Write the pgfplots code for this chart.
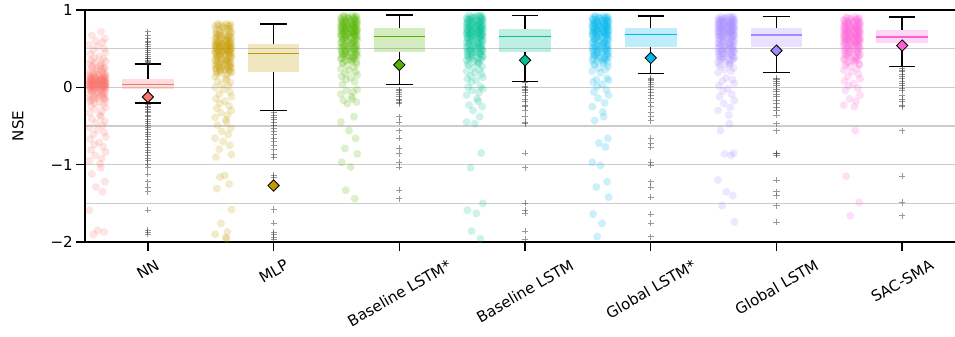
\documentclass[border=0pt]{standalone}
\usepackage{graphicx}
\usepackage{fontspec}
\setmainfont{DejaVu Sans}
\usepackage{pgfplots}
\usepackage{pgfplotstable}
\pgfplotsset{compat=1.18}
\usepgfplotslibrary{statistics}
\definecolor{cNN}{HTML}{F8766D}
\definecolor{cMLP}{HTML}{C49A00}
\definecolor{cBLs}{HTML}{53B400}
\definecolor{cBL}{HTML}{00C094}
\definecolor{cGLs}{HTML}{00B6EB}
\definecolor{cGL}{HTML}{A58AFF}
\definecolor{cSAC}{HTML}{FB61D7}

\pgfplotstableread[row sep=\\]{j y\\
0.02 0.72\\ -0.035 0.67\\ 0.045 0.63\\ -0.01 0.60\\ 0.03 0.58\\
-0.05 0.55\\ 0.00 0.53\\ 0.04 0.50\\ -0.025 0.48\\ 0.05 0.45\\
-0.045 0.43\\ 0.01 0.40\\ -0.02 0.38\\ 0.035 0.37\\ -0.04 0.35\\
0.05 0.34\\ -0.015 0.32\\ 0.025 0.31\\ -0.05 0.30\\ 0.015 0.29\\
0.02 0.27\\ -0.035 0.26\\ 0.045 0.25\\ -0.01 0.24\\ 0.03 0.23\\
-0.05 0.21\\ 0.00 0.20\\ 0.04 0.19\\ -0.025 0.18\\ 0.05 0.16\\
-0.045 0.15\\ 0.01 0.14\\ -0.02 0.14\\ 0.035 0.13\\ -0.04 0.13\\
0.05 0.12\\ -0.015 0.12\\ 0.025 0.11\\ -0.05 0.11\\ 0.015 0.10\\
0.02 0.10\\ -0.035 0.10\\ 0.045 0.09\\ -0.01 0.09\\ 0.03 0.09\\
-0.05 0.08\\ 0.00 0.08\\ 0.04 0.08\\ -0.025 0.07\\ 0.05 0.07\\
-0.045 0.07\\ 0.01 0.06\\ -0.02 0.06\\ 0.035 0.06\\ -0.04 0.05\\
0.05 0.05\\ -0.015 0.05\\ 0.025 0.05\\ -0.05 0.04\\ 0.015 0.04\\
0.02 0.04\\ -0.035 0.04\\ 0.045 0.03\\ -0.01 0.03\\ 0.03 0.03\\
-0.05 0.02\\ 0.00 0.02\\ 0.04 0.02\\ -0.025 0.01\\ 0.05 0.01\\
-0.045 0.01\\ 0.01 0.00\\ -0.02 0.00\\ 0.035 0.00\\ -0.04 -0.01\\
0.05 -0.01\\ -0.015 -0.02\\ 0.025 -0.02\\ -0.05 -0.03\\ 0.015 -0.04\\
0.02 -0.05\\ -0.035 -0.06\\ 0.045 -0.08\\ -0.01 -0.10\\ 0.03 -0.12\\
-0.05 -0.13\\ 0.00 -0.14\\ 0.04 -0.15\\ -0.025 -0.16\\ 0.05 -0.17\\
-0.045 -0.18\\ 0.01 -0.19\\ -0.02 -0.20\\ 0.035 -0.22\\ -0.04 -0.24\\
0.05 -0.26\\ -0.015 -0.28\\ 0.025 -0.31\\ -0.05 -0.33\\ 0.015 -0.36\\
0.02 -0.38\\ -0.035 -0.41\\ 0.045 -0.44\\ -0.01 -0.46\\ 0.03 -0.49\\
-0.05 -0.52\\ 0.00 -0.55\\ 0.04 -0.58\\ -0.025 -0.61\\ 0.05 -0.64\\
-0.045 -0.67\\ 0.01 -0.71\\ -0.02 -0.74\\ 0.035 -0.77\\ -0.04 -0.81\\
0.05 -0.84\\ -0.015 -0.88\\ 0.025 -0.92\\ -0.05 -0.95\\ 0.015 -0.99\\
0.02 -1.04\\ -0.035 -1.12\\ 0.045 -1.22\\ -0.01 -1.29\\ 0.03 -1.35\\
-0.05 -1.59\\ 0.00 -1.85\\ 0.04 -1.87\\ -0.025 -1.90\\
}\tNN
\pgfplotstableread[row sep=\\]{j y\\
-0.03 0.28\\ 0.04 0.25\\ -0.005 0.22\\ 0.025 0.20\\ -0.045 0.18\\
0.035 0.17\\ 0.005 0.16\\ -0.02 0.15\\ 0.045 0.14\\ -0.04 0.13\\
-0.03 0.12\\ 0.04 0.12\\ -0.005 0.11\\ 0.025 0.11\\ -0.045 0.10\\
0.035 0.10\\ 0.005 0.09\\ -0.02 0.09\\ 0.045 0.08\\ -0.04 0.08\\
-0.03 0.07\\ 0.04 0.07\\ -0.005 0.06\\ 0.025 0.06\\ -0.045 0.05\\
0.035 0.05\\ 0.005 0.04\\ -0.02 0.04\\ 0.045 0.03\\ -0.04 0.03\\
-0.03 0.02\\ 0.04 0.02\\ -0.005 0.01\\ 0.025 0.01\\ -0.045 0.00\\
0.035 0.00\\ 0.005 -0.01\\ -0.02 -0.02\\ 0.045 -0.03\\ -0.04 -0.04\\
-0.03 -0.05\\ 0.04 -0.06\\ -0.005 -0.07\\ 0.025 -0.08\\ -0.045 -0.09\\
0.035 -0.10\\ 0.005 -0.11\\ -0.02 -0.12\\ 0.045 -0.14\\ -0.04 -0.16\\
}\xNN

\pgfplotstableread[row sep=\\]{j y\\
0.02 0.82\\ -0.035 0.82\\ 0.045 0.81\\ -0.01 0.81\\ 0.03 0.80\\
-0.05 0.79\\ 0.00 0.78\\ 0.04 0.76\\ -0.025 0.74\\ 0.05 0.72\\
-0.045 0.70\\ 0.01 0.68\\ -0.02 0.67\\ 0.035 0.66\\ -0.04 0.65\\
0.05 0.64\\ -0.015 0.63\\ 0.025 0.62\\ -0.05 0.61\\ 0.015 0.60\\
0.02 0.59\\ -0.035 0.58\\ 0.045 0.58\\ -0.01 0.57\\ 0.03 0.57\\
-0.05 0.56\\ 0.00 0.56\\ 0.04 0.55\\ -0.025 0.55\\ 0.05 0.54\\
-0.045 0.54\\ 0.01 0.53\\ -0.02 0.53\\ 0.035 0.52\\ -0.04 0.52\\
0.05 0.51\\ -0.015 0.51\\ 0.025 0.50\\ -0.05 0.50\\ 0.015 0.49\\
0.02 0.49\\ -0.035 0.48\\ 0.045 0.48\\ -0.01 0.47\\ 0.03 0.47\\
-0.05 0.46\\ 0.00 0.46\\ 0.04 0.45\\ -0.025 0.45\\ 0.05 0.44\\
-0.045 0.44\\ 0.01 0.43\\ -0.02 0.42\\ 0.035 0.41\\ -0.04 0.40\\
0.05 0.39\\ -0.015 0.38\\ 0.025 0.37\\ -0.05 0.36\\ 0.015 0.35\\
0.02 0.34\\ -0.035 0.33\\ 0.045 0.32\\ -0.01 0.31\\ 0.03 0.30\\
-0.05 0.29\\ 0.00 0.28\\ 0.04 0.27\\ -0.025 0.26\\ 0.05 0.25\\
-0.045 0.24\\ 0.01 0.23\\ -0.02 0.22\\ 0.035 0.21\\ -0.04 0.20\\
0.05 0.19\\ -0.015 0.18\\ 0.025 0.16\\ -0.05 0.14\\ 0.015 0.12\\
0.02 0.10\\ -0.035 0.08\\ 0.045 0.06\\ -0.01 0.04\\ 0.03 0.02\\
-0.05 0.00\\ 0.00 -0.03\\ 0.04 -0.06\\ -0.025 -0.09\\ 0.05 -0.12\\
-0.045 -0.15\\ 0.01 -0.18\\ -0.02 -0.21\\ 0.035 -0.24\\ -0.04 -0.27\\
0.05 -0.30\\ -0.015 -0.33\\ 0.025 -0.36\\ -0.05 -0.39\\ 0.015 -0.42\\
0.02 -0.45\\ -0.035 -0.49\\ 0.045 -0.53\\ -0.01 -0.57\\ 0.03 -0.61\\
-0.05 -0.66\\ 0.00 -0.70\\ 0.04 -0.75\\ -0.025 -0.80\\ 0.05 -0.87\\
-0.045 -0.90\\ 0.01 -1.14\\ -0.02 -1.16\\ 0.035 -1.25\\ -0.04 -1.31\\
0.05 -1.58\\ -0.015 -1.76\\ 0.025 -1.87\\ -0.05 -1.90\\ 0.015 -1.94\\
0.02 -1.96\\ -0.035 -2.5\\ 0.045 -3.4\\ -0.01 -6.0\\
}\tMLP
\pgfplotstableread[row sep=\\]{j y\\
-0.03 0.80\\ 0.04 0.79\\ -0.005 0.77\\ 0.025 0.76\\ -0.045 0.75\\
0.035 0.73\\ 0.005 0.72\\ -0.02 0.71\\ 0.045 0.70\\ -0.04 0.69\\
-0.03 0.68\\ 0.04 0.67\\ -0.005 0.66\\ 0.025 0.65\\ -0.045 0.64\\
0.035 0.63\\ 0.005 0.62\\ -0.02 0.61\\ 0.045 0.60\\ -0.04 0.59\\
-0.03 0.58\\ 0.04 0.57\\ -0.005 0.56\\ 0.025 0.55\\ -0.045 0.54\\
0.035 0.53\\ 0.005 0.52\\ -0.02 0.51\\ 0.045 0.50\\ -0.04 0.49\\
-0.03 0.48\\ 0.04 0.47\\ -0.005 0.46\\ 0.025 0.45\\ -0.045 0.44\\
0.035 0.43\\ 0.005 0.42\\ -0.02 0.41\\ 0.045 0.40\\ -0.04 0.39\\
-0.03 0.38\\ 0.04 0.37\\ -0.005 0.36\\ 0.025 0.35\\ -0.045 0.34\\
0.035 0.33\\ 0.005 0.32\\ -0.02 0.31\\ 0.045 0.30\\ -0.04 0.29\\
-0.03 0.28\\ 0.04 0.27\\ -0.005 0.26\\ 0.025 0.25\\ -0.045 0.24\\
0.035 0.23\\ 0.005 0.22\\ -0.02 0.21\\ 0.045 0.20\\ -0.04 0.18\\
}\xMLP

\pgfplotstableread[row sep=\\]{j y\\
0.02 0.93\\ -0.035 0.92\\ 0.045 0.92\\ -0.01 0.91\\ 0.03 0.90\\
-0.05 0.90\\ 0.00 0.89\\ 0.04 0.88\\ -0.025 0.88\\ 0.05 0.87\\
-0.045 0.86\\ 0.01 0.86\\ -0.02 0.85\\ 0.035 0.84\\ -0.04 0.84\\
0.05 0.83\\ -0.015 0.83\\ 0.025 0.82\\ -0.05 0.82\\ 0.015 0.81\\
0.02 0.81\\ -0.035 0.80\\ 0.045 0.80\\ -0.01 0.79\\ 0.03 0.79\\
-0.05 0.78\\ 0.00 0.78\\ 0.04 0.77\\ -0.025 0.77\\ 0.05 0.76\\
-0.045 0.76\\ 0.01 0.75\\ -0.02 0.75\\ 0.035 0.74\\ -0.04 0.74\\
0.05 0.73\\ -0.015 0.73\\ 0.025 0.72\\ -0.05 0.72\\ 0.015 0.71\\
0.02 0.71\\ -0.035 0.70\\ 0.045 0.70\\ -0.01 0.69\\ 0.03 0.69\\
-0.05 0.68\\ 0.00 0.68\\ 0.04 0.67\\ -0.025 0.67\\ 0.05 0.66\\
-0.045 0.66\\ 0.01 0.65\\ -0.02 0.64\\ 0.035 0.63\\ -0.04 0.62\\
0.05 0.61\\ -0.015 0.60\\ 0.025 0.59\\ -0.05 0.58\\ 0.015 0.57\\
0.02 0.56\\ -0.035 0.55\\ 0.045 0.54\\ -0.01 0.53\\ 0.03 0.52\\
-0.05 0.51\\ 0.00 0.50\\ 0.04 0.49\\ -0.025 0.48\\ 0.05 0.47\\
-0.045 0.46\\ 0.01 0.45\\ -0.02 0.44\\ 0.035 0.43\\ -0.04 0.42\\
0.05 0.41\\ -0.015 0.40\\ 0.025 0.38\\ -0.05 0.37\\ 0.015 0.35\\
0.02 0.34\\ -0.035 0.32\\ 0.045 0.30\\ -0.01 0.28\\ 0.03 0.26\\
-0.05 0.24\\ 0.00 0.22\\ 0.04 0.20\\ -0.025 0.18\\ 0.05 0.16\\
-0.045 0.14\\ 0.01 0.12\\ -0.02 0.10\\ 0.035 0.07\\ -0.04 0.04\\
0.05 -0.03\\ -0.015 -0.04\\ 0.025 -0.06\\ -0.05 -0.09\\ 0.015 -0.12\\
0.02 -0.15\\ -0.035 -0.17\\ 0.045 -0.19\\ -0.01 -0.21\\ 0.03 -0.38\\
-0.05 -0.45\\ 0.00 -0.56\\ 0.04 -0.66\\ -0.025 -0.79\\ 0.05 -0.86\\
-0.045 -0.97\\ 0.01 -1.03\\ -0.02 -1.33\\ 0.035 -1.44\\
}\tBLs
\pgfplotstableread[row sep=\\]{j y\\
-0.03 0.92\\ 0.04 0.91\\ -0.005 0.90\\ 0.025 0.89\\ -0.045 0.88\\
0.035 0.87\\ 0.005 0.86\\ -0.02 0.85\\ 0.045 0.84\\ -0.04 0.83\\
-0.03 0.82\\ 0.04 0.81\\ -0.005 0.80\\ 0.025 0.79\\ -0.045 0.78\\
0.035 0.77\\ 0.005 0.76\\ -0.02 0.75\\ 0.045 0.74\\ -0.04 0.73\\
-0.03 0.72\\ 0.04 0.71\\ -0.005 0.70\\ 0.025 0.69\\ -0.045 0.68\\
0.035 0.67\\ 0.005 0.66\\ -0.02 0.65\\ 0.045 0.64\\ -0.04 0.63\\
-0.03 0.62\\ 0.04 0.61\\ -0.005 0.60\\ 0.025 0.59\\ -0.045 0.58\\
0.035 0.57\\ 0.005 0.56\\ -0.02 0.55\\ 0.045 0.54\\ -0.04 0.53\\
-0.03 0.52\\ 0.04 0.51\\ -0.005 0.50\\ 0.025 0.49\\ -0.045 0.48\\
0.035 0.47\\ 0.005 0.46\\ -0.02 0.45\\ 0.045 0.44\\ -0.04 0.43\\
-0.03 0.42\\ 0.04 0.41\\ -0.005 0.40\\ 0.025 0.39\\ -0.045 0.38\\
0.035 0.37\\ 0.005 0.36\\ -0.02 0.35\\ 0.045 0.33\\ -0.04 0.31\\
}\xBLs

\pgfplotstableread[row sep=\\]{j y\\
0.02 0.93\\ -0.035 0.93\\ 0.045 0.92\\ -0.01 0.91\\ 0.03 0.91\\
-0.05 0.90\\ 0.00 0.89\\ 0.04 0.89\\ -0.025 0.88\\ 0.05 0.87\\
-0.045 0.87\\ 0.01 0.86\\ -0.02 0.85\\ 0.035 0.85\\ -0.04 0.84\\
0.05 0.83\\ -0.015 0.83\\ 0.025 0.82\\ -0.05 0.82\\ 0.015 0.81\\
0.02 0.80\\ -0.035 0.80\\ 0.045 0.79\\ -0.01 0.79\\ 0.03 0.78\\
-0.05 0.78\\ 0.00 0.77\\ 0.04 0.77\\ -0.025 0.76\\ 0.05 0.76\\
-0.045 0.75\\ 0.01 0.75\\ -0.02 0.74\\ 0.035 0.74\\ -0.04 0.73\\
0.05 0.73\\ -0.015 0.72\\ 0.025 0.72\\ -0.05 0.71\\ 0.015 0.71\\
0.02 0.70\\ -0.035 0.70\\ 0.045 0.69\\ -0.01 0.69\\ 0.03 0.68\\
-0.05 0.68\\ 0.00 0.67\\ 0.04 0.67\\ -0.025 0.66\\ 0.05 0.66\\
-0.045 0.65\\ 0.01 0.65\\ -0.02 0.64\\ 0.035 0.63\\ -0.04 0.62\\
0.05 0.61\\ -0.015 0.60\\ 0.025 0.59\\ -0.05 0.58\\ 0.015 0.57\\
0.02 0.56\\ -0.035 0.55\\ 0.045 0.54\\ -0.01 0.53\\ 0.03 0.52\\
-0.05 0.51\\ 0.00 0.50\\ 0.04 0.49\\ -0.025 0.48\\ 0.05 0.47\\
-0.045 0.46\\ 0.01 0.45\\ -0.02 0.44\\ 0.035 0.43\\ -0.04 0.41\\
0.05 0.40\\ -0.015 0.38\\ 0.025 0.37\\ -0.05 0.35\\ 0.015 0.33\\
0.02 0.31\\ -0.035 0.29\\ 0.045 0.27\\ -0.01 0.25\\ 0.03 0.23\\
-0.05 0.21\\ 0.00 0.19\\ 0.04 0.17\\ -0.025 0.15\\ 0.05 0.13\\
-0.045 0.11\\ 0.01 0.09\\ -0.02 0.07\\ 0.035 0.01\\ -0.04 0.00\\
0.05 -0.02\\ -0.015 -0.04\\ 0.025 -0.07\\ -0.05 -0.10\\ 0.015 -0.15\\
0.02 -0.18\\ -0.035 -0.23\\ 0.045 -0.25\\ -0.01 -0.30\\ 0.03 -0.38\\
-0.05 -0.45\\ 0.00 -0.47\\ 0.04 -0.85\\ -0.025 -1.04\\ 0.05 -1.50\\
-0.045 -1.59\\ 0.01 -1.63\\ -0.02 -1.86\\ 0.035 -1.96\\
}\tBL
\pgfplotstableread[row sep=\\]{j y\\
0.035 0.925\\ 0.005 0.915\\ -0.02 0.905\\ 0.045 0.895\\ -0.04 0.885\\
-0.03 0.875\\ 0.04 0.865\\ -0.005 0.855\\ 0.025 0.845\\ -0.045 0.835\\
0.035 0.825\\ 0.005 0.815\\ -0.02 0.805\\ 0.045 0.795\\ -0.04 0.785\\
-0.03 0.775\\ 0.04 0.765\\ -0.005 0.755\\ 0.025 0.745\\ -0.045 0.735\\
0.035 0.725\\ 0.005 0.715\\ -0.02 0.705\\ 0.045 0.695\\ -0.04 0.685\\
-0.03 0.675\\ 0.04 0.665\\ -0.005 0.655\\ 0.025 0.645\\ -0.045 0.635\\
0.035 0.625\\ 0.005 0.615\\ -0.02 0.605\\ 0.045 0.595\\ -0.04 0.585\\
-0.03 0.575\\ 0.04 0.565\\ -0.005 0.555\\ 0.025 0.545\\ -0.045 0.535\\
0.035 0.525\\ 0.005 0.515\\ -0.02 0.505\\ 0.045 0.495\\ -0.04 0.485\\
-0.03 0.475\\ 0.04 0.465\\ -0.005 0.455\\ 0.025 0.445\\ -0.045 0.435\\
0.035 0.425\\ 0.005 0.415\\ -0.02 0.405\\ 0.045 0.395\\ -0.04 0.385\\
-0.03 0.375\\ 0.04 0.36\\ -0.005 0.34\\ 0.025 0.32\\ -0.045 0.30\\
}\xBL

\pgfplotstableread[row sep=\\]{j y\\
0.02 0.92\\ -0.035 0.92\\ 0.045 0.91\\ -0.01 0.91\\ 0.03 0.90\\
-0.05 0.90\\ 0.00 0.89\\ 0.04 0.88\\ -0.025 0.88\\ 0.05 0.87\\
-0.045 0.87\\ 0.01 0.86\\ -0.02 0.85\\ 0.035 0.85\\ -0.04 0.84\\
0.05 0.84\\ -0.015 0.83\\ 0.025 0.83\\ -0.05 0.82\\ 0.015 0.82\\
0.02 0.81\\ -0.035 0.81\\ 0.045 0.80\\ -0.01 0.80\\ 0.03 0.79\\
-0.05 0.79\\ 0.00 0.78\\ 0.04 0.78\\ -0.025 0.77\\ 0.05 0.77\\
-0.045 0.76\\ 0.01 0.76\\ -0.02 0.75\\ 0.035 0.75\\ -0.04 0.74\\
0.05 0.74\\ -0.015 0.73\\ 0.025 0.73\\ -0.05 0.72\\ 0.015 0.72\\
0.02 0.71\\ -0.035 0.71\\ 0.045 0.70\\ -0.01 0.70\\ 0.03 0.69\\
-0.05 0.69\\ 0.00 0.68\\ 0.04 0.68\\ -0.025 0.67\\ 0.05 0.67\\
-0.045 0.66\\ 0.01 0.65\\ -0.02 0.64\\ 0.035 0.63\\ -0.04 0.62\\
0.05 0.61\\ -0.015 0.60\\ 0.025 0.59\\ -0.05 0.58\\ 0.015 0.57\\
0.02 0.56\\ -0.035 0.55\\ 0.045 0.54\\ -0.01 0.53\\ 0.03 0.52\\
-0.05 0.51\\ 0.00 0.50\\ 0.04 0.49\\ -0.025 0.48\\ 0.05 0.47\\
-0.045 0.46\\ 0.01 0.45\\ -0.02 0.44\\ 0.035 0.42\\ -0.04 0.41\\
0.05 0.39\\ -0.015 0.38\\ 0.025 0.36\\ -0.05 0.35\\ 0.015 0.33\\
0.02 0.31\\ -0.035 0.29\\ 0.045 0.27\\ -0.01 0.25\\ 0.03 0.23\\
-0.05 0.21\\ 0.00 0.19\\ 0.04 0.12\\ -0.025 0.10\\ 0.05 0.09\\
-0.045 0.07\\ 0.01 0.04\\ -0.02 0.01\\ 0.035 -0.03\\ -0.04 -0.06\\
0.05 -0.10\\ -0.015 -0.14\\ 0.025 -0.20\\ -0.05 -0.25\\ 0.015 -0.32\\
0.02 -0.38\\ -0.035 -0.43\\ 0.045 -0.66\\ -0.01 -0.72\\ 0.03 -0.77\\
-0.05 -0.97\\ 0.00 -1.01\\ 0.04 -1.22\\ -0.025 -1.29\\ 0.05 -1.42\\
-0.045 -1.64\\ 0.01 -1.76\\ -0.02 -1.93\\ 0.035 -2.02\\
}\tGLs
\pgfplotstableread[row sep=\\]{j y\\
-0.03 0.915\\ 0.04 0.905\\ -0.005 0.895\\ 0.025 0.885\\ -0.045 0.875\\
0.035 0.865\\ 0.005 0.855\\ -0.02 0.845\\ 0.045 0.835\\ -0.04 0.825\\
-0.03 0.815\\ 0.04 0.805\\ -0.005 0.795\\ 0.025 0.785\\ -0.045 0.775\\
0.035 0.765\\ 0.005 0.755\\ -0.02 0.745\\ 0.045 0.735\\ -0.04 0.725\\
-0.03 0.715\\ 0.04 0.705\\ -0.005 0.695\\ 0.025 0.685\\ -0.045 0.675\\
0.035 0.665\\ 0.005 0.655\\ -0.02 0.645\\ 0.045 0.635\\ -0.04 0.625\\
-0.03 0.615\\ 0.04 0.605\\ -0.005 0.595\\ 0.025 0.585\\ -0.045 0.575\\
0.035 0.565\\ 0.005 0.555\\ -0.02 0.545\\ 0.045 0.535\\ -0.04 0.525\\
-0.03 0.515\\ 0.04 0.505\\ -0.005 0.495\\ 0.025 0.485\\ -0.045 0.475\\
0.035 0.465\\ 0.005 0.455\\ -0.02 0.445\\ 0.045 0.435\\ -0.04 0.425\\
-0.03 0.415\\ 0.04 0.405\\ -0.005 0.395\\ 0.025 0.385\\ -0.045 0.375\\
0.035 0.365\\ 0.005 0.355\\ -0.02 0.34\\ 0.045 0.32\\ -0.04 0.30\\
}\xGLs

\pgfplotstableread[row sep=\\]{j y\\
0.02 0.915\\ -0.035 0.91\\ 0.045 0.91\\ -0.01 0.90\\ 0.03 0.89\\
-0.05 0.89\\ 0.00 0.88\\ 0.04 0.88\\ -0.025 0.87\\ 0.05 0.86\\
-0.045 0.86\\ 0.01 0.85\\ -0.02 0.85\\ 0.035 0.84\\ -0.04 0.84\\
0.05 0.83\\ -0.015 0.83\\ 0.025 0.82\\ -0.05 0.82\\ 0.015 0.81\\
0.02 0.81\\ -0.035 0.80\\ 0.045 0.80\\ -0.01 0.79\\ 0.03 0.79\\
-0.05 0.78\\ 0.00 0.78\\ 0.04 0.77\\ -0.025 0.77\\ 0.05 0.76\\
-0.045 0.76\\ 0.01 0.75\\ -0.02 0.75\\ 0.035 0.74\\ -0.04 0.74\\
0.05 0.73\\ -0.015 0.73\\ 0.025 0.72\\ -0.05 0.72\\ 0.015 0.71\\
0.02 0.71\\ -0.035 0.70\\ 0.045 0.70\\ -0.01 0.69\\ 0.03 0.69\\
-0.05 0.68\\ 0.00 0.68\\ 0.04 0.67\\ -0.025 0.66\\ 0.05 0.66\\
-0.045 0.65\\ 0.01 0.64\\ -0.02 0.63\\ 0.035 0.62\\ -0.04 0.61\\
0.05 0.60\\ -0.015 0.59\\ 0.025 0.58\\ -0.05 0.57\\ 0.015 0.56\\
0.02 0.55\\ -0.035 0.54\\ 0.045 0.53\\ -0.01 0.52\\ 0.03 0.51\\
-0.05 0.50\\ 0.00 0.49\\ 0.04 0.48\\ -0.025 0.47\\ 0.05 0.46\\
-0.045 0.45\\ 0.01 0.44\\ -0.02 0.43\\ 0.035 0.41\\ -0.04 0.40\\
0.05 0.38\\ -0.015 0.37\\ 0.025 0.35\\ -0.05 0.33\\ 0.015 0.31\\
0.02 0.29\\ -0.035 0.27\\ 0.045 0.25\\ -0.01 0.23\\ 0.03 0.21\\
-0.05 0.19\\ 0.00 0.12\\ 0.04 0.10\\ -0.025 0.08\\ 0.05 0.05\\
-0.045 0.02\\ 0.01 -0.02\\ -0.02 -0.05\\ 0.035 -0.09\\ -0.04 -0.12\\
0.05 -0.17\\ -0.015 -0.21\\ 0.025 -0.26\\ -0.05 -0.30\\ 0.015 -0.36\\
0.02 -0.47\\ -0.035 -0.56\\ 0.045 -0.85\\ -0.01 -0.86\\ 0.03 -0.88\\
-0.05 -1.20\\ 0.00 -1.35\\ 0.04 -1.40\\ -0.025 -1.53\\ 0.05 -1.74\\
}\tGL
\pgfplotstableread[row sep=\\]{j y\\
0.035 0.91\\ 0.005 0.90\\ -0.02 0.89\\ 0.045 0.88\\ -0.04 0.87\\
-0.03 0.86\\ 0.04 0.85\\ -0.005 0.84\\ 0.025 0.83\\ -0.045 0.82\\
0.035 0.81\\ 0.005 0.80\\ -0.02 0.79\\ 0.045 0.78\\ -0.04 0.77\\
-0.03 0.76\\ 0.04 0.75\\ -0.005 0.74\\ 0.025 0.73\\ -0.045 0.72\\
0.035 0.71\\ 0.005 0.70\\ -0.02 0.69\\ 0.045 0.68\\ -0.04 0.67\\
-0.03 0.66\\ 0.04 0.65\\ -0.005 0.64\\ 0.025 0.63\\ -0.045 0.62\\
0.035 0.61\\ 0.005 0.60\\ -0.02 0.59\\ 0.045 0.58\\ -0.04 0.57\\
-0.03 0.56\\ 0.04 0.55\\ -0.005 0.54\\ 0.025 0.53\\ -0.045 0.52\\
0.035 0.51\\ 0.005 0.50\\ -0.02 0.49\\ 0.045 0.48\\ -0.04 0.47\\
-0.03 0.46\\ 0.04 0.45\\ -0.005 0.44\\ 0.025 0.43\\ -0.045 0.42\\
0.035 0.41\\ 0.005 0.40\\ -0.02 0.39\\ 0.045 0.38\\ -0.04 0.37\\
-0.03 0.36\\ 0.04 0.35\\ -0.005 0.33\\ 0.025 0.31\\ -0.045 0.29\\
}\xGL

\pgfplotstableread[row sep=\\]{j y\\
0.02 0.91\\ -0.035 0.90\\ 0.045 0.89\\ -0.01 0.89\\ 0.03 0.88\\
-0.05 0.87\\ 0.00 0.86\\ 0.04 0.86\\ -0.025 0.85\\ 0.05 0.84\\
-0.045 0.83\\ 0.01 0.83\\ -0.02 0.82\\ 0.035 0.81\\ -0.04 0.81\\
0.05 0.80\\ -0.015 0.80\\ 0.025 0.79\\ -0.05 0.79\\ 0.015 0.78\\
0.02 0.78\\ -0.035 0.77\\ 0.045 0.77\\ -0.01 0.76\\ 0.03 0.76\\
-0.05 0.75\\ 0.00 0.75\\ 0.04 0.74\\ -0.025 0.74\\ 0.05 0.73\\
-0.045 0.73\\ 0.01 0.72\\ -0.02 0.72\\ 0.035 0.71\\ -0.04 0.71\\
0.05 0.70\\ -0.015 0.70\\ 0.025 0.69\\ -0.05 0.69\\ 0.015 0.68\\
0.02 0.68\\ -0.035 0.67\\ 0.045 0.67\\ -0.01 0.66\\ 0.03 0.66\\
-0.05 0.65\\ 0.00 0.65\\ 0.04 0.64\\ -0.025 0.64\\ 0.05 0.63\\
-0.045 0.63\\ 0.01 0.62\\ -0.02 0.62\\ 0.035 0.61\\ -0.04 0.61\\
0.05 0.60\\ -0.015 0.60\\ 0.025 0.59\\ -0.05 0.59\\ 0.015 0.58\\
0.02 0.58\\ -0.035 0.57\\ 0.045 0.57\\ -0.01 0.56\\ 0.03 0.55\\
-0.05 0.54\\ 0.00 0.53\\ 0.04 0.52\\ -0.025 0.51\\ 0.05 0.50\\
-0.045 0.49\\ 0.01 0.48\\ -0.02 0.47\\ 0.035 0.45\\ -0.04 0.44\\
0.05 0.42\\ -0.015 0.41\\ 0.025 0.39\\ -0.05 0.37\\ 0.015 0.35\\
0.02 0.33\\ -0.035 0.31\\ 0.045 0.29\\ -0.01 0.27\\ 0.03 0.24\\
-0.05 0.22\\ 0.00 0.20\\ 0.04 0.17\\ -0.025 0.14\\ 0.05 0.11\\
-0.045 0.08\\ 0.01 0.05\\ -0.02 0.02\\ 0.035 -0.01\\ -0.04 -0.04\\
0.05 -0.10\\ -0.015 -0.15\\ 0.025 -0.18\\ -0.05 -0.23\\ 0.015 -0.25\\
0.02 -0.56\\ -0.035 -1.15\\ 0.045 -1.49\\ -0.01 -1.66\\
}\tSAC
\pgfplotstableread[row sep=\\]{j y\\
-0.03 0.905\\ 0.04 0.895\\ -0.005 0.885\\ 0.025 0.875\\ -0.045 0.865\\
0.035 0.855\\ 0.005 0.845\\ -0.02 0.835\\ 0.045 0.825\\ -0.04 0.815\\
-0.03 0.805\\ 0.04 0.795\\ -0.005 0.785\\ 0.025 0.775\\ -0.045 0.765\\
0.035 0.755\\ 0.005 0.745\\ -0.02 0.735\\ 0.045 0.725\\ -0.04 0.715\\
-0.03 0.705\\ 0.04 0.695\\ -0.005 0.685\\ 0.025 0.675\\ -0.045 0.665\\
0.035 0.655\\ 0.005 0.645\\ -0.02 0.635\\ 0.045 0.625\\ -0.04 0.615\\
-0.03 0.605\\ 0.04 0.595\\ -0.005 0.585\\ 0.025 0.575\\ -0.045 0.565\\
0.035 0.555\\ 0.005 0.545\\ -0.02 0.535\\ 0.045 0.525\\ -0.04 0.515\\
-0.03 0.505\\ 0.04 0.495\\ -0.005 0.485\\ 0.025 0.475\\ -0.045 0.465\\
0.035 0.455\\ 0.005 0.445\\ -0.02 0.435\\ 0.045 0.425\\ -0.04 0.415\\
-0.03 0.405\\ 0.04 0.395\\ -0.005 0.385\\ 0.025 0.37\\ -0.045 0.36\\
0.035 0.35\\ 0.005 0.34\\ -0.02 0.32\\ 0.045 0.30\\ -0.04 0.28\\
}\xSAC

% strip of points: position, colour, table
\newcommand{\strip}[3]{\addplot[only marks, mark=*, mark size=3pt,
  mark options={draw=#2, draw opacity=0, fill=#2, fill opacity=0.2}]
  table[x expr=1.3*\thisrow{j}+#1-0.4, y=y] {#3};}
% box: position, colour, lw, q1, median, q3, uw
\newcommand{\bx}[7]{\addplot[boxplot/draw direction=y,
  boxplot/every box/.style={draw=none, fill=#2, fill opacity=0.25},
  boxplot/every median/.style={draw=#2, line width=1pt},
  boxplot/every whisker/.style={draw=black, line width=1.1pt},
  boxplot prepared={draw position=#1, lower whisker=#3, lower quartile=#4,
  median=#5, upper quartile=#6, upper whisker=#7, box extend=0.41, whisker extend=0.21}]
  coordinates {};}
% outliers: position, domain, table
\newcommand{\outl}[3]{\addplot[only marks, mark=+, mark size=2.3pt,
  mark options={draw=black!80, draw opacity=0.5, line width=0.55pt},
  restrict y to domain=#2] table[x expr=#1, y=y] {#3};}
% mean: position, colour, value
\newcommand{\mn}[3]{\addplot[only marks, mark=square*, mark size=3pt,
  mark options={rotate=45, fill=#2, draw=black, line width=0.6pt}] coordinates {(#1,#3)};}

\begin{document}
\fontsize{11.3}{13.5}\selectfont
\begin{tikzpicture}
\begin{axis}[
  name=ax, scale only axis, width=652.5pt, height=174pt,
  xmin=-0.5, xmax=6.42, ymin=-2, ymax=1,
  xtick={0,1,2,3,4,5,6},
  xticklabels={\rotatebox{30}{NN},\rotatebox{30}{MLP},\rotatebox{30}{Baseline LSTM*},\rotatebox{30}{Baseline LSTM},\rotatebox{30}{Global LSTM*},\rotatebox{30}{Global LSTM},\rotatebox{30}{SAC-SMA}},
  ytick={-2,-1,0,1}, yticklabels={−2,−1,0,1},
  minor ytick={-1.5,-0.5,0.5},
  ymajorgrids, yminorgrids,
  major grid style={color=black!20, line width=0.8pt},
  minor grid style={color=black!20, line width=0.8pt},
  axis x line*=box, axis y line*=left,
  axis line style={line width=1.5pt},
  tick align=outside, xtick pos=left, ytick pos=left,
  major tick length=6.5pt, minor tick length=0pt,
  tick style={black, line width=1.1pt},
  xticklabel style={anchor=north, inner sep=0pt, yshift=-6pt},
  yticklabel style={anchor=east, inner sep=0pt, xshift=-2.5pt},
  ylabel={NSE},
  every axis y label/.style={at={(axis description cs:-0.077,0.5)}, rotate=90, anchor=center},
]
\strip{0}{cNN}{\tNN}   \strip{0}{cNN}{\xNN}
\strip{1}{cMLP}{\tMLP} \strip{1}{cMLP}{\xMLP}
\strip{2}{cBLs}{\tBLs} \strip{2}{cBLs}{\xBLs}
\strip{3}{cBL}{\tBL}   \strip{3}{cBL}{\xBL}
\strip{4}{cGLs}{\tGLs} \strip{4}{cGLs}{\xGLs}
\strip{5}{cGL}{\tGL}   \strip{5}{cGL}{\xGL}
\strip{6}{cSAC}{\tSAC} \strip{6}{cSAC}{\xSAC}

\bx{0}{cNN}{-0.20}{-0.02}{0.04}{0.11}{0.30}
\bx{1}{cMLP}{-0.30}{0.20}{0.44}{0.556}{0.82}
\bx{2}{cBLs}{0.035}{0.457}{0.66}{0.772}{0.935}
\bx{3}{cBL}{0.073}{0.457}{0.66}{0.76}{0.93}
\bx{4}{cGLs}{0.18}{0.52}{0.68}{0.772}{0.92}
\bx{5}{cGL}{0.19}{0.52}{0.677}{0.772}{0.915}
\bx{6}{cSAC}{0.27}{0.573}{0.65}{0.746}{0.91}

\outl{0}{0.3001:5}{\tNN}
\outl{0}{-100:-0.2001}{\tNN}
\outl{1}{-100:-0.3001}{\tMLP}
\outl{2}{-100:0.0349}{\tBLs}
\outl{3}{-100:0.0729}{\tBL}
\outl{4}{-100:0.1799}{\tGLs}
\outl{5}{-100:0.1899}{\tGL}
\outl{6}{-100:0.2699}{\tSAC}

\mn{0}{cNN}{-0.125}
\mn{1}{cMLP}{-1.27}
\mn{2}{cBLs}{0.29}
\mn{3}{cBL}{0.35}
\mn{4}{cGLs}{0.38}
\mn{5}{cGL}{0.475}
\mn{6}{cSAC}{0.54}
\end{axis}
\pgfresetboundingbox
\path[use as bounding box] ([xshift=-63.75pt,yshift=-71.25pt]ax.south west) rectangle ([yshift=7.5pt]ax.north east);
\end{tikzpicture}
\end{document}
